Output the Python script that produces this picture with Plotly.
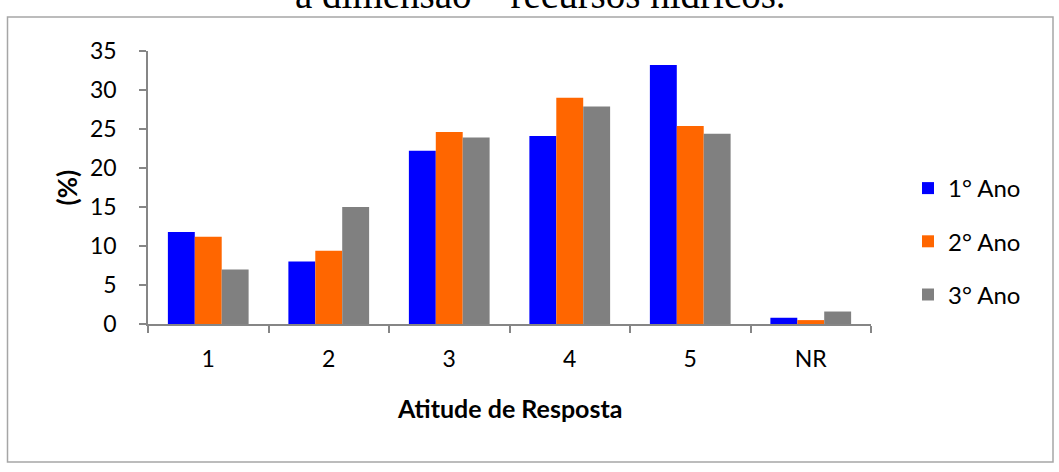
import plotly.graph_objects as go

categories = ["1", "2", "3", "4", "5", "NR"]
ano1 = [11.8, 8.0, 22.2, 24.1, 33.2, 0.8]
ano2 = [11.2, 9.4, 24.6, 29.0, 25.4, 0.5]
ano3 = [7.0, 15.0, 23.9, 27.9, 24.4, 1.6]
series_names = ["1° Ano", "2° Ano", "3° Ano"]
colors = ["#0000FF", "#FF6600", "#808080"]
y_ticks = [0, 5, 10, 15, 20, 25, 30, 35]

W, H = 1059, 472
L, R, T, B = 148, 871, 51, 324  # plot area pixel bounds

def px_x(p):
    return (p - L) / (R - L)

def px_y(p):
    return (B - p) / (B - T)

FONT = "Lato"
fig = go.Figure()
for name, vals, col in zip(series_names, [ano1, ano2, ano3], colors):
    fig.add_trace(go.Bar(x=categories, y=vals, name=name, marker_color=col,
                         marker_line_width=0, legendgroup=name))

fig.update_layout(
    width=W, height=H,
    margin=dict(l=L, r=W - R, t=T, b=H - B, pad=0),
    paper_bgcolor="white", plot_bgcolor="white",
    barmode="group", bargap=0.33, bargroupgap=0,
    font=dict(family=FONT, size=23, color="#000000"),
    showlegend=True,
    legend=dict(x=px_x(908), y=px_y(166), xanchor="left", yanchor="top",
                font=dict(family=FONT, size=24, color="#000"), tracegroupgap=19,
                bgcolor="rgba(0,0,0,0)"),
    xaxis=dict(type="category", showline=True, linecolor="#868686", linewidth=1.5,
               ticks="outside", tickson="boundaries", ticklen=7, tickcolor="#868686",
               tickwidth=1.5, showgrid=False, ticklabelstandoff=14,
               tickfont=dict(family=FONT, size=23, color="#000")),
    yaxis=dict(range=[0, 35], tickvals=y_ticks, showline=True, linecolor="#868686",
               linewidth=1.5, ticks="outside", ticklen=7, tickcolor="#868686",
               tickwidth=1.5, showgrid=False, zeroline=False, ticklabelstandoff=18,
               tickfont=dict(family=FONT, size=23, color="#000")),
    shapes=[dict(type="rect", xref="paper", yref="paper",
                 x0=px_x(7.5), x1=px_x(1053), y0=px_y(462), y1=px_y(17),
                 line=dict(color="#a6a6a6", width=1.5), fillcolor="rgba(0,0,0,0)",
                 layer="below")],
    annotations=[
        dict(text="<b>Atitude de Resposta</b>", xref="paper", yref="paper",
             x=px_x(509.5), y=px_y(408), xanchor="center", yanchor="middle",
             showarrow=False, font=dict(family=FONT, size=25, color="#000")),
        dict(text="<b>(%)</b>", xref="paper", yref="paper",
             x=px_x(66), y=px_y(187.5), xanchor="center", yanchor="middle",
             textangle=-90, showarrow=False, font=dict(family=FONT, size=26, color="#000")),
        dict(text="a dimensão – recursos hídricos.", xref="paper", yref="paper",
             x=px_x(540), y=px_y(18), xanchor="center", yanchor="bottom",
             showarrow=False, font=dict(family="Liberation Serif", size=39, color="#000")),
    ],
)

fig.write_html("out.html")
